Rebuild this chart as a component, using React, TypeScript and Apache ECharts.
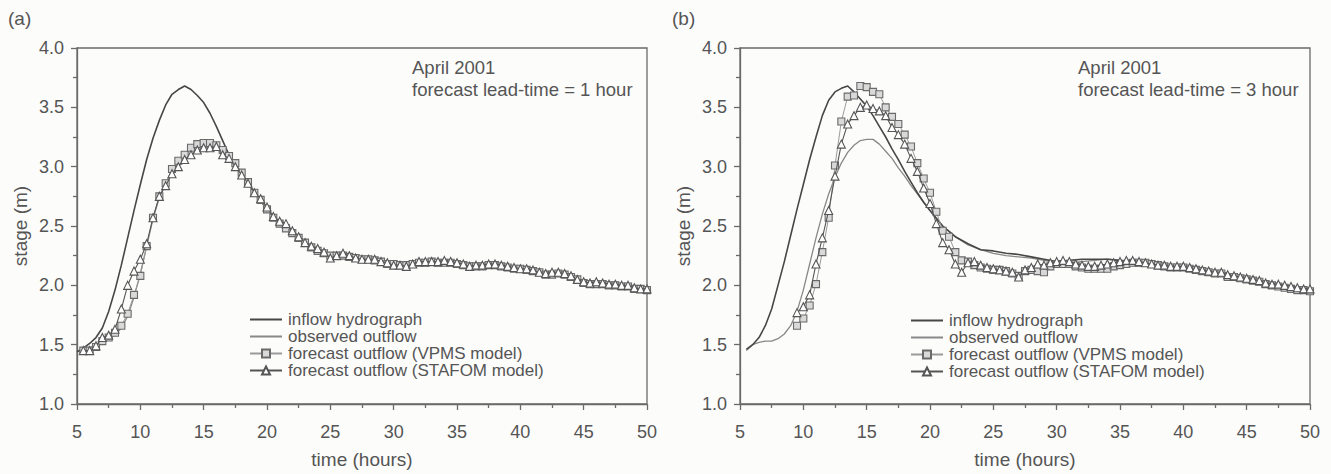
import React, { useEffect, useRef } from "react";
import * as echarts from "echarts";

// ---------- Panel (a): forecast lead-time = 1 hour ----------
const A_LINE_T = [5, 5.5, 6, 6.5, 7, 7.5, 8, 8.5, 9, 9.5, 10, 10.5, 11, 11.5, 12, 12.5, 13, 13.5, 14, 14.5, 15, 15.5, 16, 16.5, 17, 17.5,
  18, 19, 20, 21, 22, 23, 24, 25, 26, 27, 28, 29, 30, 31, 32, 33, 34, 35, 36, 37, 38, 39, 40, 41, 42, 43, 44, 45, 46, 47, 48, 49, 50];
const A_INFLOW = [1.44, 1.47, 1.51, 1.56, 1.64, 1.78, 1.96, 2.17, 2.40, 2.63, 2.85, 3.06, 3.24, 3.39, 3.52, 3.61, 3.65, 3.68, 3.65, 3.60,
  3.54, 3.45, 3.34, 3.22, 3.10, 3.02,
  2.94, 2.78, 2.64, 2.52, 2.44, 2.36, 2.29, 2.25, 2.25, 2.23, 2.22, 2.20, 2.18, 2.17, 2.19, 2.20, 2.20, 2.18, 2.16, 2.16, 2.17, 2.15, 2.14,
  2.12, 2.10, 2.10, 2.07, 2.02, 2.01, 2.00, 1.99, 1.97, 1.96];
const A_OBSERVED = [1.44, 1.45, 1.47, 1.50, 1.52, 1.55, 1.58, 1.64, 1.74, 1.90, 2.10, 2.33, 2.56, 2.74, 2.86, 2.96, 3.04, 3.10, 3.15, 3.18,
  3.19, 3.19, 3.17, 3.13, 3.08, 3.02,
  2.94, 2.79, 2.65, 2.52, 2.44, 2.36, 2.30, 2.26, 2.25, 2.23, 2.22, 2.20, 2.18, 2.18, 2.19, 2.20, 2.20, 2.18, 2.16, 2.16, 2.17, 2.16, 2.14,
  2.12, 2.10, 2.10, 2.07, 2.03, 2.01, 2.00, 1.99, 1.97, 1.96];
const A_FC_T = [5.5, 6, 6.5, 7, 7.5, 8, 8.5, 9, 9.5, 10, 10.5, 11, 11.5, 12, 12.5, 13, 13.5, 14, 14.5, 15,
  15.5, 16, 16.5, 17, 17.5, 18, 18.5, 19, 19.5, 20, 20.5, 21, 21.5, 22, 22.5, 23, 23.5, 24, 24.5, 25,
  25.5, 26, 26.5, 27, 27.5, 28, 28.5, 29, 29.5, 30, 30.5, 31, 31.5, 32, 32.5, 33, 33.5, 34, 34.5, 35,
  35.5, 36, 36.5, 37, 37.5, 38, 38.5, 39, 39.5, 40, 40.5, 41, 41.5, 42, 42.5, 43, 43.5, 44, 44.5, 45,
  45.5, 46, 46.5, 47, 47.5, 48, 48.5, 49, 49.5, 50];
const A_VPMS = [1.45, 1.45, 1.48, 1.53, 1.56, 1.60, 1.66, 1.76, 1.92, 2.08, 2.33, 2.57, 2.75, 2.86, 2.98, 3.05, 3.10, 3.16, 3.19, 3.20,
  3.20, 3.18, 3.14, 3.09, 3.03, 2.95, 2.87, 2.78, 2.72, 2.64, 2.57, 2.52, 2.48, 2.44, 2.40, 2.36, 2.32, 2.29, 2.27, 2.25,
  2.25, 2.25, 2.24, 2.23, 2.22, 2.22, 2.21, 2.20, 2.18, 2.18, 2.17, 2.17, 2.18, 2.19, 2.19, 2.20, 2.19, 2.19, 2.19, 2.18,
  2.17, 2.16, 2.16, 2.16, 2.17, 2.17, 2.16, 2.15, 2.14, 2.14, 2.13, 2.12, 2.11, 2.09, 2.09, 2.10, 2.09, 2.07, 2.05, 2.02,
  2.01, 2.01, 2.01, 2.00, 2.00, 1.99, 1.99, 1.97, 1.97, 1.96];
const A_STAFOM = [1.45, 1.45, 1.49, 1.56, 1.58, 1.63, 1.80, 2.00, 2.12, 2.22, 2.35, 2.57, 2.75, 2.84, 2.94, 3.00, 3.06, 3.10, 3.14, 3.16,
  3.16, 3.17, 3.10, 3.07, 3.00, 2.93, 2.86, 2.78, 2.73, 2.66, 2.58, 2.54, 2.52, 2.46, 2.41, 2.36, 2.33, 2.31, 2.28, 2.23,
  2.25, 2.27, 2.25, 2.23, 2.22, 2.22, 2.22, 2.20, 2.19, 2.17, 2.17, 2.16, 2.18, 2.20, 2.20, 2.20, 2.20, 2.21, 2.20, 2.19,
  2.18, 2.16, 2.17, 2.17, 2.18, 2.18, 2.17, 2.16, 2.15, 2.14, 2.14, 2.13, 2.11, 2.10, 2.11, 2.11, 2.10, 2.08, 2.05, 2.03,
  2.02, 2.03, 2.02, 2.01, 2.01, 2.00, 2.00, 1.98, 1.97, 1.97];

// ---------- Panel (b): forecast lead-time = 3 hour ----------
const B_LINE_T = [5.5, 6, 6.5, 7, 7.5, 8, 8.5, 9, 9.5, 10, 10.5, 11, 11.5, 12, 12.5, 13, 13.5, 14, 14.5, 15,
  15.5, 16, 16.5, 17, 17.5, 18, 18.5, 19, 19.5, 20,
  21, 22, 23, 24, 25, 26, 27, 28, 29, 30, 31, 32, 33, 34, 35, 36, 37, 38, 39, 40, 41, 42, 43, 44, 45, 46, 47, 48, 49, 50];
const B_INFLOW = [1.46, 1.50, 1.56, 1.66, 1.80, 2.00, 2.20, 2.42, 2.64, 2.85, 3.06, 3.25, 3.43, 3.56, 3.63, 3.66, 3.68, 3.63, 3.57, 3.51,
  3.43, 3.34, 3.25, 3.15, 3.06, 2.96, 2.87, 2.78, 2.70, 2.63,
  2.50, 2.41, 2.35, 2.30, 2.29, 2.27, 2.26, 2.24, 2.22, 2.20, 2.21, 2.22, 2.22, 2.22, 2.21, 2.20, 2.19, 2.17, 2.16, 2.15,
  2.14, 2.13, 2.11, 2.09, 2.07, 2.04, 2.02, 2.00, 1.98, 1.97];
const B_OBSERVED = [1.45, 1.50, 1.52, 1.53, 1.53, 1.55, 1.59, 1.66, 1.78, 1.96, 2.18, 2.40, 2.60, 2.77, 2.91, 3.03, 3.12, 3.18, 3.22, 3.23,
  3.23, 3.19, 3.13, 3.07, 2.99, 2.92, 2.84, 2.77, 2.70, 2.63,
  2.50, 2.41, 2.34, 2.30, 2.27, 2.25, 2.24, 2.23, 2.21, 2.19, 2.19, 2.20, 2.21, 2.22, 2.21, 2.20, 2.19, 2.17, 2.16, 2.15,
  2.14, 2.12, 2.11, 2.09, 2.07, 2.04, 2.02, 2.00, 1.98, 1.97];
const B_FC_T = [9.5, 10, 10.5, 11, 11.5, 12, 12.5, 13, 13.5, 14, 14.5, 15, 15.5, 16, 16.5, 17, 17.5, 18, 18.5, 19,
  19.5, 20, 20.5, 21, 21.5, 22, 22.5, 23, 23.5, 24, 24.5, 25, 25.5, 26, 26.5, 27, 27.5, 28, 28.5, 29,
  29.5, 30, 30.5, 31, 31.5, 32, 32.5, 33, 33.5, 34, 34.5, 35, 35.5, 36, 36.5, 37, 37.5, 38, 38.5, 39,
  39.5, 40, 40.5, 41, 41.5, 42, 42.5, 43, 43.5, 44, 44.5, 45, 45.5, 46, 46.5, 47, 47.5, 48, 48.5, 49,
  49.5, 50];
const B_VPMS = [1.66, 1.72, 1.83, 2.01, 2.28, 2.57, 3.01, 3.38, 3.59, 3.60, 3.68, 3.67, 3.63, 3.61, 3.50, 3.42, 3.36, 3.27, 3.17, 3.03,
  2.90, 2.78, 2.62, 2.46, 2.41, 2.28, 2.21, 2.20, 2.17, 2.15, 2.14, 2.13, 2.13, 2.12, 2.10, 2.08, 2.12, 2.13, 2.12, 2.11,
  2.16, 2.18, 2.18, 2.18, 2.16, 2.15, 2.14, 2.14, 2.14, 2.14, 2.16, 2.17, 2.18, 2.19, 2.19, 2.19, 2.18, 2.17, 2.16, 2.15,
  2.15, 2.15, 2.14, 2.13, 2.12, 2.11, 2.10, 2.10, 2.07, 2.07, 2.06, 2.05, 2.04, 2.03, 2.01, 2.00, 1.99, 1.98, 1.97, 1.96,
  1.96, 1.95];
const B_STAFOM = [1.77, 1.82, 1.92, 2.18, 2.40, 2.63, 2.92, 3.19, 3.36, 3.43, 3.50, 3.52, 3.49, 3.47, 3.43, 3.33, 3.27, 3.19, 3.07, 2.96,
  2.82, 2.69, 2.52, 2.36, 2.30, 2.18, 2.11, 2.19, 2.20, 2.17, 2.15, 2.14, 2.13, 2.12, 2.11, 2.07, 2.13, 2.15, 2.18, 2.17,
  2.19, 2.20, 2.21, 2.20, 2.18, 2.17, 2.16, 2.16, 2.17, 2.18, 2.19, 2.20, 2.21, 2.21, 2.20, 2.19, 2.18, 2.17, 2.17, 2.16,
  2.16, 2.16, 2.15, 2.14, 2.13, 2.12, 2.11, 2.11, 2.09, 2.08, 2.07, 2.06, 2.05, 2.04, 2.02, 2.01, 2.01, 2.00, 1.99, 1.98,
  1.97, 1.97];

const NAMES = ["inflow hydrograph", "observed outflow", "forecast outflow (VPMS model)", "forecast outflow (STAFOM model)"];
const PANEL_LABELS = ["(a)", "(b)"];
const NOTE_TITLE = "April 2001";
const NOTE_LEAD = ["forecast lead-time = 1 hour", "forecast lead-time = 3 hour"];
const X_NAME = "time (hours)";
const Y_NAME = "stage (m)";

const FONT = "'Liberation Sans', Arial, Helvetica, sans-serif";
const TXT = "#555";
const AX = "#6a6a6a";

function pairs(ts: number[], vs: number[]) {
  return ts.map((t, i) => [t, vs[i]]);
}

function panelSeries(gi: number, lt: number[], inflow: number[], obs: number[], ft: number[], vpms: number[], stafom: number[]) {
  return [
    {
      name: NAMES[0], type: "line", xAxisIndex: gi, yAxisIndex: gi, data: pairs(lt, inflow),
      symbol: "none", showSymbol: false, lineStyle: { color: "#474747", width: 1.6 }, itemStyle: { color: "#474747" }, z: 3,
    },
    {
      name: NAMES[1], type: "line", xAxisIndex: gi, yAxisIndex: gi, data: pairs(lt, obs),
      symbol: "none", showSymbol: false, lineStyle: { color: "#888", width: 1.3 }, itemStyle: { color: "#888" }, z: 2,
    },
    {
      name: NAMES[2], type: "line", xAxisIndex: gi, yAxisIndex: gi, data: pairs(ft, vpms),
      symbol: "rect", symbolSize: 7, showSymbol: true,
      lineStyle: { color: "#9a9a9a", width: 1 },
      itemStyle: { color: "#d9d9d9", borderColor: "#6a6a6a", borderWidth: 1.1 }, z: 4,
    },
    {
      name: NAMES[3], type: "line", xAxisIndex: gi, yAxisIndex: gi, data: pairs(ft, stafom),
      symbol: "triangle", symbolSize: 8, showSymbol: true,
      lineStyle: { color: "#555", width: 1.1 },
      itemStyle: { color: "#ffffff", borderColor: "#555", borderWidth: 1.1 }, z: 5,
    },
  ];
}

function xAxisOf(gi: number) {
  return {
    type: "value", gridIndex: gi, min: 5, max: 50, interval: 5,
    name: X_NAME, nameLocation: "middle", nameGap: 46,
    nameTextStyle: { fontSize: 19, color: TXT, fontFamily: FONT },
    axisLine: { onZero: false, lineStyle: { color: AX, width: 1.3 } },
    axisTick: { show: true, inside: false, length: 6, lineStyle: { color: AX, width: 1.3 } },
    minorTick: { show: true, splitNumber: 2, length: 4, lineStyle: { color: AX, width: 1.3 } },
    axisLabel: { fontSize: 18, color: TXT, margin: 19, fontFamily: FONT },
    splitLine: { show: false }, minorSplitLine: { show: false },
  };
}

function yAxisOf(gi: number) {
  return {
    type: "value", gridIndex: gi, min: 1, max: 4, interval: 0.5,
    name: Y_NAME, nameLocation: "middle", nameGap: 47,
    nameTextStyle: { fontSize: 19, color: TXT, fontFamily: FONT },
    axisLine: { onZero: false, lineStyle: { color: AX, width: 1.3 } },
    axisTick: { show: true, inside: false, length: 6, lineStyle: { color: AX, width: 1.3 } },
    minorTick: { show: true, splitNumber: 2, length: 4, lineStyle: { color: AX, width: 1.3 } },
    axisLabel: { fontSize: 18, color: TXT, margin: 13, fontFamily: FONT, formatter: (v: number) => v.toFixed(1) },
    splitLine: { show: false }, minorSplitLine: { show: false },
  };
}

function legendOf(left: number, top: number) {
  const hidden = { opacity: 0, color: "transparent", borderColor: "transparent" };
  return {
    orient: "vertical", left, top, padding: 0, itemWidth: 32, itemHeight: 10, itemGap: 0,
    selectedMode: false,
    textStyle: { fontSize: 17, color: TXT, fontFamily: FONT, lineHeight: 17, padding: [0, 0, 0, 1] },
    data: [
      { name: NAMES[0], itemStyle: hidden },
      { name: NAMES[1], itemStyle: hidden },
      { name: NAMES[2] },
      { name: NAMES[3] },
    ],
  };
}

export default function App() {
  const ref = useRef<HTMLDivElement>(null);
  useEffect(() => {
    document.body.style.margin = "0";
    if (!ref.current) return;
    const chart = echarts.init(ref.current, undefined, { renderer: "svg" });
    const noteStyle = { fontSize: 18.5, fill: TXT, fontFamily: FONT };
    const labelStyle = { fontSize: 19, fill: TXT, fontFamily: FONT };
    chart.setOption({
      animation: false,
      backgroundColor: "#fcfcfb",
      textStyle: { fontFamily: FONT },
      grid: [
        { left: 77, top: 48, width: 570, height: 356, show: true, borderColor: AX, borderWidth: 1.3, backgroundColor: "transparent" },
        { left: 740, top: 48, width: 570, height: 358, show: true, borderColor: AX, borderWidth: 1.3, backgroundColor: "transparent" },
      ],
      xAxis: [xAxisOf(0), xAxisOf(1)],
      yAxis: [yAxisOf(0), yAxisOf(1)],
      legend: [legendOf(249, 311), legendOf(910, 312)],
      series: [
        ...panelSeries(0, A_LINE_T, A_INFLOW, A_OBSERVED, A_FC_T, A_VPMS, A_STAFOM),
        ...panelSeries(1, B_LINE_T, B_INFLOW, B_OBSERVED, B_FC_T, B_VPMS, B_STAFOM),
      ],
      graphic: [
        { type: "text", x: 8, y: 18, style: { ...labelStyle, text: PANEL_LABELS[0], textVerticalAlign: "middle" } },
        { type: "text", x: 672, y: 18, style: { ...labelStyle, text: PANEL_LABELS[1], textVerticalAlign: "middle" } },
        { type: "text", x: 412, y: 67, style: { ...noteStyle, text: NOTE_TITLE, textVerticalAlign: "middle" } },
        { type: "text", x: 412, y: 89, style: { ...noteStyle, text: NOTE_LEAD[0], textVerticalAlign: "middle" } },
        { type: "text", x: 1078, y: 67, style: { ...noteStyle, text: NOTE_TITLE, textVerticalAlign: "middle" } },
        { type: "text", x: 1078, y: 89, style: { ...noteStyle, text: NOTE_LEAD[1], textVerticalAlign: "middle" } },
      ],
    });
    return () => chart.dispose();
  }, []);
  return <div ref={ref} style={{ width: 1331, height: 474 }} />;
}
